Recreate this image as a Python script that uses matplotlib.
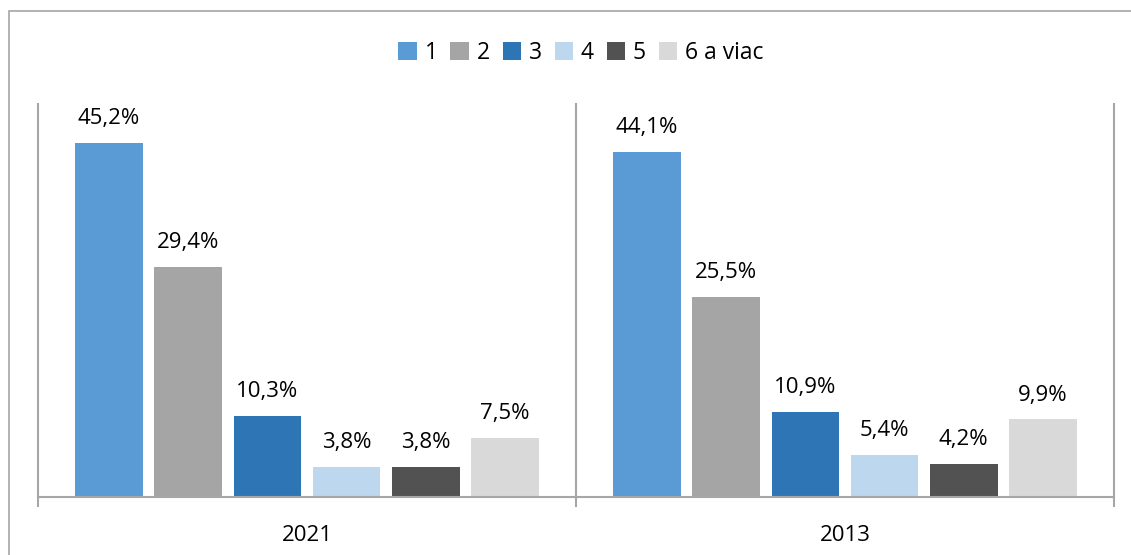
import matplotlib
matplotlib.use("Agg")
import matplotlib.pyplot as plt
from matplotlib.patches import Rectangle
from matplotlib.lines import Line2D
import numpy as np

years = ["2021", "2013"]
categories = ["1", "2", "3", "4", "5", "6 a viac"]
values_2021 = [45.2, 29.4, 10.3, 3.8, 3.8, 7.5]
values_2013 = [44.1, 25.5, 10.9, 5.4, 4.2, 9.9]
colors = ["#5B9BD5", "#A5A5A5", "#2E75B6", "#BDD7EE", "#525252", "#D9D9D9"]

plt.rcParams['font.family'] = ['Open Sans', 'DejaVu Sans']

fig = plt.figure(figsize=(11.31, 5.55), dpi=100)
ax = fig.add_axes([38 / 1131, 1 - 497 / 555, (1114 - 38) / 1131, (497 - 104) / 555])

# outer chart frame (cut off at right/bottom like the source)
fig.patches.append(Rectangle((9 / 1131, -0.1), 1.1, 1.1 - 11 / 555, transform=fig.transFigure,
                             fill=False, edgecolor="#A6A6A6", linewidth=1.2, zorder=0))

step = 79.2 / 538
width = 67.5 / 538
offsets = (np.arange(len(categories)) - (len(categories) - 1) / 2) * step

data = [values_2021, values_2013]
for g, vals in enumerate(data):
    for i, v in enumerate(vals):
        x = g + 0.5 + offsets[i]
        ax.bar(x, v, width=width, color=colors[i], label=categories[i] if g == 0 else None)
        ax.annotate(f"{v:.1f}%".replace(".", ","), (x, v), xytext=(0, 10),
                    textcoords="offset points", ha="center", va="bottom", fontsize=16)

ax.set_xlim(0, 2)
ax.set_ylim(0, 50.2)
for s in ["top", "right", "left"]:
    ax.spines[s].set_visible(False)
ax.spines["bottom"].set_color("#A6A6A6")
ax.spines["bottom"].set_linewidth(1.5)
ax.set_yticks([])
ax.set_xticks([0.5, 1.5])
ax.set_xticklabels(years, fontsize=16)
ax.tick_params(axis="x", length=0, pad=20)

# group separators
for xs in [0, 1, 2]:
    ax.add_line(Line2D([xs, xs], [-0.023, 1], transform=ax.get_xaxis_transform(),
                       color="#A6A6A6", linewidth=1.5, clip_on=False))

fig.legend(loc="center", bbox_to_anchor=(581 / 1131, 1 - 53 / 555), ncol=6, frameon=False,
           fontsize=16.5, handlelength=0.8, handleheight=0.8, handletextpad=0.35, columnspacing=0.55)

fig.savefig("out.png", dpi=100)
